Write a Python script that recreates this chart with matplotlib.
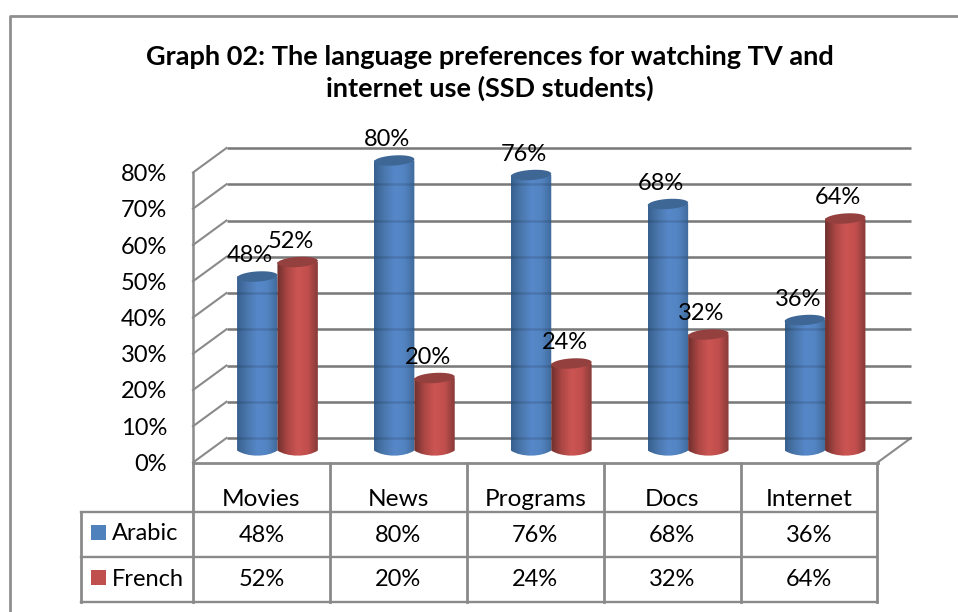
import matplotlib
matplotlib.use('Agg')
import matplotlib.pyplot as plt
import numpy as np
from matplotlib.colors import LinearSegmentedColormap
from matplotlib.patches import PathPatch, Polygon, Rectangle
from matplotlib.path import Path
from matplotlib.transforms import ScaledTranslation

categories = ['Movies', 'News', 'Programs', 'Docs', 'Internet']
arabic = [48, 80, 76, 68, 36]
french = [52, 20, 24, 32, 64]
yticks = [0, 10, 20, 30, 40, 50, 60, 70, 80]
title = 'Graph 02: The language preferences for watching TV and\ninternet use (SSD students)'

W, H, DPI = 958, 612, 100
GREY = '#8a8a8a'
plt.rcParams['font.family'] = ['Lato', 'DejaVu Sans']

fig = plt.figure(figsize=(W / DPI, H / DPI), dpi=DPI)

# overlay in pixels for the frame and the table rules
ov = fig.add_axes([0, 0, 1, 1])
ov.set_xlim(0, W)
ov.set_ylim(H, 0)
ov.axis('off')

# plot axes is the front plane of the 3d box, with headroom above 80%
x0, x1, y0, px_per = 193, 877.5, 462.5, 3.625
ymax = 100
ax = fig.add_axes([x0 / W, 1 - y0 / H, (x1 - x0) / W, ymax * px_per / H])
ax.set_xlim(0, 5)
ax.set_ylim(0, ymax)
ax.axis('off')
ax.patch.set_alpha(0)


def shifted(dx, dy):
    return ax.transData + ScaledTranslation(dx / DPI, dy / DPI, fig.dpi_scale_trans)


# frame
ov.plot([10, 10, W], [H, 15.5, 15.5], color='#8f8f8f', lw=2, solid_capstyle='butt')

# walls
back = shifted(33.5, 24.5)
for v in yticks:
    ax.plot([0, 5], [v, v], color=GREY, lw=1.8, transform=back, clip_on=False, zorder=1,
            solid_capstyle='butt')
    ax.plot([0, 5], [v, v], color='black', alpha=.12, lw=1.8, transform=back, clip_on=False,
            zorder=3.15, solid_capstyle='butt')
    ov.plot([x0, x0 + 33.5], [y0 - v * px_per, y0 - v * px_per - 24.5], color=GREY, lw=1.5, zorder=1)
ov.plot([x0, x0], [y0 - 80 * px_per, y0], color=GREY, lw=1.8)
ov.plot([x1, x1 + 33.5], [y0, y0 - 24.5], color=GREY, lw=1.5)
ax.plot([0, 5], [0, 0], color=GREY, lw=2, clip_on=False, zorder=1)

# table rules
rows = [462.5, 512, 557, 601.5]
cols = [x0 + i * (x1 - x0) / 5 for i in range(6)]
for c in cols:
    ov.plot([c, c], [rows[0], rows[-1]], color=GREY, lw=2)
ov.plot([81.5, 81.5], [rows[1], rows[-1]], color=GREY, lw=2)
for r in rows[1:]:
    ov.plot([81.5, x1], [r, r], color=GREY, lw=1.7)

# cylinders
blue_map = LinearSegmentedColormap.from_list('b', ['#38618f', '#4a77ad', '#5687c8', '#5384c2', '#3f6a9b'])
red_map = LinearSegmentedColormap.from_list('r', ['#6f302e', '#ab4644', '#cb5553', '#c24f4d', '#873c39'])
grad = np.linspace(0, 1, 64).reshape(1, -1)
front = shifted(16, 12)
labels = shifted(9, 12)
bar_w = 0.295
ry = 1.4
tilt = 0.35


def cylinder(left, value, cmap, top_color, z):
    right = left + bar_w
    mid = (left + right) / 2
    t = np.linspace(0, 2 * np.pi, 60)
    ring_x = mid + bar_w / 2 * np.cos(t)
    ring_y = value + ry * np.sin(t) + tilt * np.cos(t)
    verts = [(left, value), (left, 0), (left + bar_w * .25, -ry * 1.35), (right - bar_w * .25, -ry * 1.35),
             (right, 0), (right, value), (left, value)]
    codes = [Path.MOVETO, Path.LINETO, Path.CURVE4, Path.CURVE4, Path.CURVE4, Path.LINETO, Path.CLOSEPOLY]
    body = PathPatch(Path(verts, codes), transform=front, fc='none', ec='none', zorder=z)
    ax.add_patch(body)
    im = ax.imshow(grad, cmap=cmap, extent=(left, right, -ry * 2, value), aspect='auto',
                   transform=front, zorder=z, interpolation='bilinear')
    im.set_clip_path(body)
    ax.add_patch(Polygon(np.column_stack([ring_x, ring_y]), closed=True, transform=front,
                         fc=top_color, ec='none', zorder=z + .1))


for i, cat in enumerate(categories):
    cylinder(i + .5 - bar_w, arabic[i], blue_map, '#3e6796', 3)
    cylinder(i + .5, french[i], red_map, '#93403e', 3.2)
    ax.text(i + .5 - bar_w / 2, arabic[i] + ry * 2, f'{arabic[i]}%', transform=labels,
            ha='center', va='bottom', fontsize=17, color='black', zorder=6)
    ax.text(i + .5 + bar_w / 2, french[i] + ry * 2, f'{french[i]}%', transform=labels,
            ha='center', va='bottom', fontsize=17, color='black', zorder=6)
    cx = (cols[i] + cols[i + 1]) / 2
    ov.text(cx, 497, cat, ha='center', va='center_baseline', fontsize=17.6, color='black')
    ov.text(cx, 534, f'{arabic[i]}%', ha='center', va='center_baseline', fontsize=17, color='black')
    ov.text(cx, 578, f'{french[i]}%', ha='center', va='center_baseline', fontsize=17, color='black')

# value axis labels
for v in yticks:
    ov.text(167, y0 - v * px_per, f'{v}%', ha='right', va='center_baseline', fontsize=17, color='black')

# legend keys inside table
ov.add_patch(Rectangle((91, 525), 15, 15, fc='#4f81bd', ec='none'))
ov.add_patch(Rectangle((91, 570), 15, 15, fc='#c0504d', ec='none'))
ov.text(112, 532, 'Arabic', ha='left', va='center_baseline', fontsize=17, color='black')
ov.text(112, 577, 'French', ha='left', va='center_baseline', fontsize=17, color='black')

ov.text(490, 73, title, ha='center', va='center', fontsize=19.5, fontweight='bold', color='black', linespacing=1.34)

fig.savefig('out.png', dpi=DPI)
